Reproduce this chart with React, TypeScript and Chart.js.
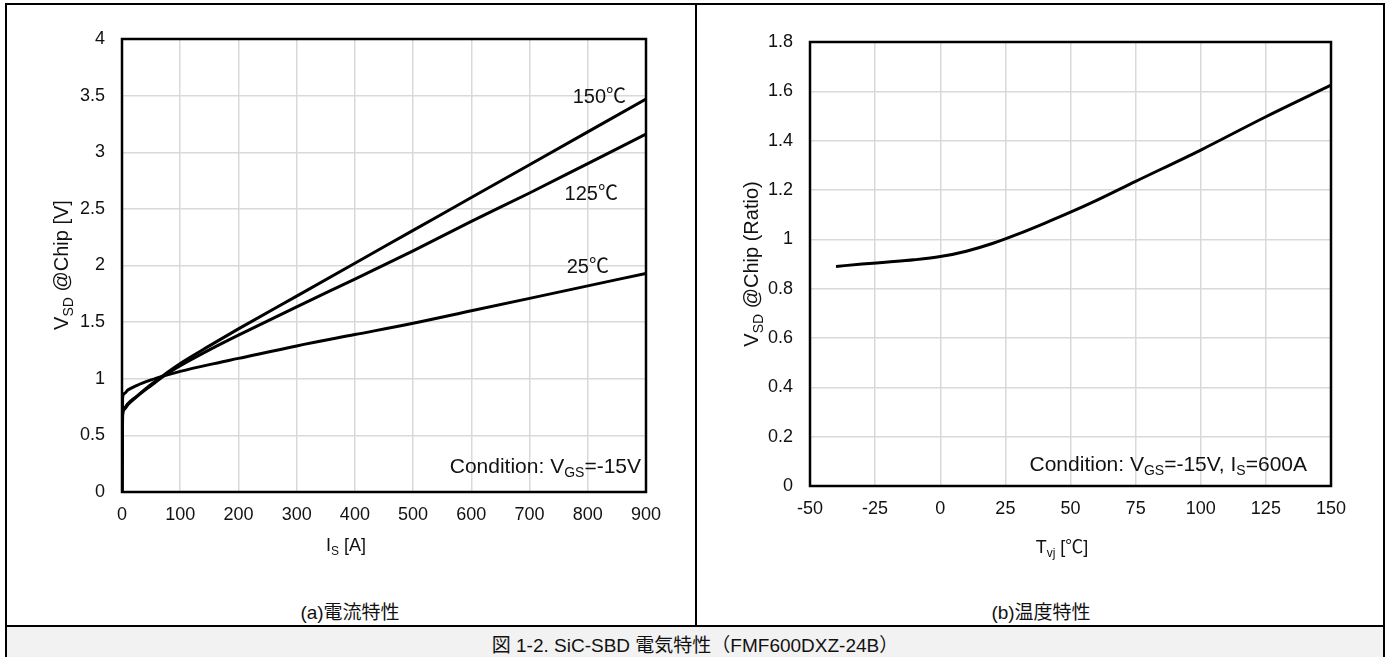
import React, { useEffect, useRef } from "react";
import { Chart, registerables } from "chart.js";

Chart.register(...registerables);

// (a) forward voltage vs. source current
const currentA = [0, 1, 4, 10, 25, 50, 75, 100, 150, 200, 300, 400, 500, 600, 700, 800, 900];
const vsd25C = [0, 0.83, 0.87, 0.9, 0.94, 0.99, 1.03, 1.065, 1.125, 1.18, 1.29, 1.39, 1.49, 1.6, 1.71, 1.82, 1.93];
const vsd125C = [0, 0.68, 0.73, 0.77, 0.84, 0.94, 1.035, 1.115, 1.255, 1.385, 1.635, 1.88, 2.13, 2.39, 2.64, 2.9, 3.16];
const vsd150C = [0, 0.68, 0.74, 0.78, 0.845, 0.95, 1.045, 1.135, 1.29, 1.44, 1.73, 2.02, 2.31, 2.6, 2.89, 3.18, 3.47];
const curveLabels = ["25℃", "125℃", "150℃"];
const curveLabelAt = [
  { x: 800, y: 2.0 },
  { x: 806, y: 2.64 },
  { x: 820, y: 3.5 },
];

// (b) forward voltage ratio vs. junction temperature
const tempC = [-40, -30, -20, -10, 0, 10, 20, 30, 40, 50, 60, 75, 100, 125, 150];
const vsdRatio = [0.89, 0.9, 0.908, 0.917, 0.93, 0.952, 0.983, 1.022, 1.065, 1.11, 1.158, 1.235, 1.362, 1.497, 1.625];

const FONT = "'Liberation Sans', Arial, 'Noto Sans CJK JP', sans-serif";
const TICK_SIZE = 18;
const YTITLE_SIZE = 20;
const NOTE_SIZE = 21;
const LABEL_SIZE = 20;

type Part = { t: string; sub?: boolean };

function richWidth(ctx: CanvasRenderingContext2D, parts: Part[], size: number) {
  let w = 0;
  for (const p of parts) {
    ctx.font = `${p.sub ? Math.round(size * 0.68) : size}px ${FONT}`;
    w += ctx.measureText(p.t).width;
  }
  return w;
}

function drawRich(
  ctx: CanvasRenderingContext2D,
  parts: Part[],
  x: number,
  y: number,
  size: number,
  align: "left" | "center" | "right",
  rotate = false
) {
  ctx.save();
  ctx.translate(x, y);
  if (rotate) ctx.rotate(-Math.PI / 2);
  const w = richWidth(ctx, parts, size);
  let cx = align === "left" ? 0 : align === "center" ? -w / 2 : -w;
  ctx.fillStyle = "#111";
  ctx.textAlign = "left";
  ctx.textBaseline = "alphabetic";
  const base = size * 0.36;
  for (const p of parts) {
    const s = p.sub ? Math.round(size * 0.68) : size;
    ctx.font = `${s}px ${FONT}`;
    ctx.fillText(p.t, cx, base + (p.sub ? size * 0.22 : 0));
    cx += ctx.measureText(p.t).width;
  }
  ctx.restore();
}

type TextSpec = {
  parts: Part[];
  x: number;
  y: number;
  size: number;
  align: "left" | "center" | "right";
  rotate?: boolean;
};

function framePlugin(texts: TextSpec[], dataLabels?: { text: string; x: number; y: number }[]) {
  return {
    id: "frameAndText",
    beforeDatasetsDraw(chart: any) {
      const { ctx, chartArea: a } = chart;
      ctx.save();
      ctx.strokeStyle = "#000";
      ctx.lineWidth = 2.5;
      ctx.strokeRect(a.left, a.top, a.right - a.left, a.bottom - a.top);
      ctx.restore();
    },
    afterDraw(chart: any) {
      const { ctx } = chart;
      for (const t of texts) drawRich(ctx, t.parts, t.x, t.y, t.size, t.align, t.rotate);
      if (dataLabels) {
        const xs = chart.scales.x;
        const ys = chart.scales.y;
        for (const l of dataLabels) {
          drawRich(ctx, [{ t: l.text }], xs.getPixelForValue(l.x), ys.getPixelForValue(l.y), LABEL_SIZE, "center");
        }
      }
    },
  };
}

function baseOptions(opts: {
  xMin: number; xMax: number; xStep: number;
  yMin: number; yMax: number; yStep: number;
  yWidth: number; xHeight: number; padTop: number; padRight: number;
}) {
  const grid = { color: "#d9d9d9", lineWidth: 1.5, drawTicks: false };
  const ticks = { color: "#111", font: { family: FONT, size: TICK_SIZE } };
  return {
    responsive: false,
    animation: false as const,
    devicePixelRatio: 1,
    layout: { padding: { top: opts.padTop, right: opts.padRight, left: 0, bottom: 0 } },
    plugins: { legend: { display: false }, tooltip: { enabled: false } },
    elements: { point: { radius: 0 }, line: { borderWidth: 3, borderColor: "#000" } },
    scales: {
      x: {
        type: "linear" as const,
        min: opts.xMin,
        max: opts.xMax,
        grid,
        border: { display: false },
        ticks: { ...ticks, stepSize: opts.xStep, padding: 12, maxRotation: 0, autoSkip: false },
        afterFit: (s: any) => { s.height = opts.xHeight; },
      },
      y: {
        type: "linear" as const,
        min: opts.yMin,
        max: opts.yMax,
        grid,
        border: { display: false },
        ticks: {
          ...ticks,
          stepSize: opts.yStep,
          padding: 17,
          callback: (v: any) => String(Math.round(Number(v) * 10) / 10),
        },
        afterFit: (s: any) => { s.width = opts.yWidth; },
      },
    },
  };
}

function CurrentChart() {
  const ref = useRef<HTMLCanvasElement>(null);
  useEffect(() => {
    const series = [vsd25C, vsd125C, vsd150C];
    const chart = new Chart(ref.current!, {
      type: "line",
      data: {
        datasets: series.map((ys, i) => ({
          label: curveLabels[i],
          data: currentA.map((x, j) => ({ x, y: ys[j] })),
          borderColor: "#000",
          borderWidth: 3,
          pointRadius: 0,
          cubicInterpolationMode: "monotone" as const,
          fill: false,
        })),
      },
      options: baseOptions({
        xMin: 0, xMax: 900, xStep: 100,
        yMin: 0, yMax: 4, yStep: 0.5,
        yWidth: 115, xHeight: 103, padTop: 34, padRight: 49,
      }) as any,
      plugins: [
        framePlugin(
          [
            { parts: [{ t: "V" }, { t: "SD", sub: true }, { t: " @Chip [V]" }], x: 54, y: 260, size: YTITLE_SIZE, align: "center", rotate: true },
            { parts: [{ t: "I" }, { t: "S", sub: true }, { t: " [A]" }], x: 339, y: 540, size: TICK_SIZE, align: "center" },
            { parts: [{ t: "Condition: V" }, { t: "GS", sub: true }, { t: "=-15V" }], x: 634, y: 460, size: NOTE_SIZE, align: "right" },
          ],
          curveLabels.map((text, i) => ({ text, x: curveLabelAt[i].x, y: curveLabelAt[i].y }))
        ),
      ],
    });
    return () => chart.destroy();
  }, []);
  return <canvas ref={ref} width={688} height={590} style={{ position: "absolute", left: 7, top: 5, width: 688, height: 590 }} />;
}

function TemperatureChart() {
  const ref = useRef<HTMLCanvasElement>(null);
  useEffect(() => {
    const chart = new Chart(ref.current!, {
      type: "line",
      data: {
        datasets: [
          {
            label: "ratio",
            data: tempC.map((x, j) => ({ x, y: vsdRatio[j] })),
            borderColor: "#000",
            borderWidth: 3,
            pointRadius: 0,
            cubicInterpolationMode: "monotone" as const,
            fill: false,
          },
        ],
      },
      options: baseOptions({
        xMin: -50, xMax: 150, xStep: 25,
        yMin: 0, yMax: 1.8, yStep: 0.2,
        yWidth: 111, xHeight: 109, padTop: 37, padRight: 52,
      }) as any,
      plugins: [
        framePlugin([
          { parts: [{ t: "V" }, { t: "SD", sub: true }, { t: " @Chip (Ratio)" }], x: 52, y: 259, size: YTITLE_SIZE, align: "center", rotate: true },
          { parts: [{ t: "T" }, { t: "vj", sub: true }, { t: " [℃]" }], x: 363, y: 542, size: TICK_SIZE, align: "center" },
          {
            parts: [{ t: "Condition: V" }, { t: "GS", sub: true }, { t: "=-15V, I" }, { t: "S", sub: true }, { t: "=600A" }],
            x: 608,
            y: 458,
            size: NOTE_SIZE,
            align: "right",
          },
        ]),
      ],
    });
    return () => chart.destroy();
  }, []);
  return <canvas ref={ref} width={684} height={590} style={{ position: "absolute", left: 699, top: 5, width: 684, height: 590 }} />;
}

export default function App() {
  const caption: React.CSSProperties = {
    position: "absolute",
    fontFamily: FONT,
    fontSize: 19,
    color: "#111",
    whiteSpace: "nowrap",
    transform: "translate(-50%, -50%)",
  };
  return (
    <div style={{ position: "absolute", left: 0, top: 0, width: 1390, height: 657, overflow: "hidden", background: "#fff" }}>
      <div style={{ position: "absolute", left: 5, top: 3, width: 1380, height: 720, border: "2px solid #000", boxSizing: "border-box" }} />
      <div style={{ position: "absolute", left: 695, top: 3, width: 2, height: 624, background: "#000" }} />
      <div style={{ position: "absolute", left: 7, top: 627, width: 1376, height: 40, background: "#f2f2f2" }} />
      <div style={{ position: "absolute", left: 5, top: 625, width: 1380, height: 2, background: "#000" }} />
      <CurrentChart />
      <TemperatureChart />
      <div style={{ ...caption, left: 350, top: 610 }}>(a)電流特性</div>
      <div style={{ ...caption, left: 1041, top: 610 }}>(b)温度特性</div>
      <div style={{ ...caption, left: 695, top: 643 }}>図 1-2. SiC-SBD 電気特性（FMF600DXZ-24B）</div>
    </div>
  );
}
